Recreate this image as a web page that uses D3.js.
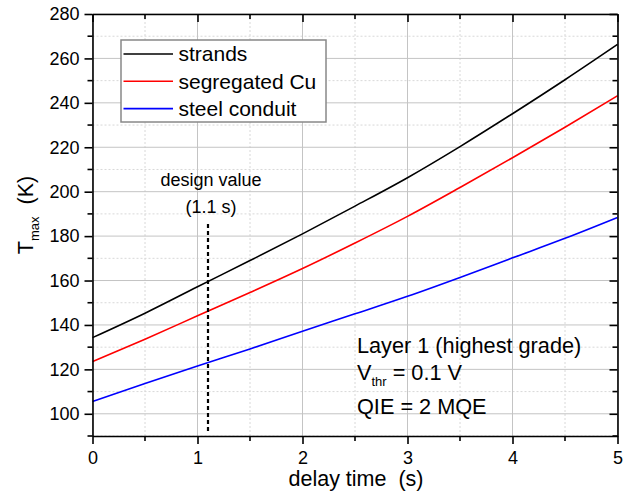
<!DOCTYPE html>
<html>
<head>
<meta charset="utf-8">
<script src="https://cdn.jsdelivr.net/npm/d3@7"></script>
<style>
  body { margin: 0; background: #fff; }
  svg { font-family: "Liberation Sans", Arial, sans-serif; }
</style>
</head>
<body>
<script>
/* Data */
var delayTimes = [0, 0.5, 1, 1.5, 2, 2.5, 3, 3.5, 4, 4.5, 5];
var strands    = [134.3, 145.3, 157.2, 169, 181, 193.5, 206.3, 220.3, 235.1, 250.4, 266.3];
var segCu      = [123.5, 133.6, 144.1, 154.6, 165.4, 176.9, 188.9, 201.9, 215.3, 229, 243.2];
var steel      = [105.5, 113.6, 121.5, 129.2, 137.2, 145, 152.9, 161.4, 170.2, 179, 188.4];
var seriesNames  = ["strands", "segregated Cu", "steel conduit"];
var seriesColors = ["#000000", "#ff0000", "#0000ff"];
var xTicks = [0, 1, 2, 3, 4, 5];
var yTicks = [100, 120, 140, 160, 180, 200, 220, 240, 260, 280];
var designValue = 1.1;

/* Display setup */
var W = 633, H = 498,
    margin = {top: 14, right: 15.5, bottom: 62, left: 92.5},
    width = W - margin.left - margin.right,
    height = H - margin.top - margin.bottom;

var svg = d3.select("body").append("svg")
    .attr("width", W)
    .attr("height", H);

var g = svg.append("g")
    .attr("transform", "translate(" + margin.left + "," + margin.top + ")");

var x = d3.scaleLinear().domain([0, 5]).range([0, width]),
    y = d3.scaleLinear().domain([90, 280]).range([height, 0]);

var xMinor = d3.range(0.5, 5, 1),
    yMinor = d3.range(90, 281, 10).filter(function(v) { return v % 20 != 0; });

/* Grid */
g.append("g").selectAll("line").data(xMinor).enter().append("line")
    .attr("x1", x).attr("x2", x).attr("y1", 0).attr("y2", height)
    .style("stroke", "#d8d8d8").style("stroke-dasharray", "2,2");
g.append("g").selectAll("line").data(yMinor).enter().append("line")
    .attr("y1", y).attr("y2", y).attr("x1", 0).attr("x2", width)
    .style("stroke", "#d8d8d8").style("stroke-dasharray", "2,2");
g.append("g").selectAll("line").data(xTicks).enter().append("line")
    .attr("x1", x).attr("x2", x).attr("y1", 0).attr("y2", height)
    .style("stroke", "#c4c4c4");
g.append("g").selectAll("line").data(yTicks).enter().append("line")
    .attr("y1", y).attr("y2", y).attr("x1", 0).attr("x2", width)
    .style("stroke", "#c4c4c4");

/* Curves */
var allSeries = [strands, segCu, steel];
var line = d3.line()
    .x(function(d, i) { return x(delayTimes[i]); })
    .y(function(d) { return y(d); })
    .curve(d3.curveMonotoneX);

g.selectAll(".curve").data(allSeries).enter().append("path")
    .attr("class", "curve")
    .attr("d", line)
    .style("fill", "none")
    .style("stroke", function(d, i) { return seriesColors[i]; })
    .style("stroke-width", 1.6);

/* Design value marker */
g.append("line")
    .attr("x1", x(designValue)).attr("x2", x(designValue))
    .attr("y1", y(185.5)).attr("y2", y(91.5))
    .style("stroke", "#000")
    .style("stroke-width", 2.2)
    .style("stroke-dasharray", "4,3");

g.append("text")
    .attr("x", x(designValue) + 3).attr("y", 172)
    .attr("text-anchor", "middle")
    .style("font-size", "18px")
    .text("design value");
g.append("text")
    .attr("x", x(designValue) + 3).attr("y", 199)
    .attr("text-anchor", "middle")
    .style("font-size", "18px")
    .text("(1.1 s)");

/* Axes */
function drawAxis(axis, transform, tickLen, showLabels) {
    var a = g.append("g").attr("transform", transform)
        .call(axis.tickSize(tickLen).tickSizeOuter(0).tickPadding(5));
    a.select(".domain").style("stroke", "#000").style("stroke-width", 1.6);
    a.selectAll(".tick line").style("stroke", "#000").style("stroke-width", 1.6);
    a.selectAll(".tick text").style("font-size", "18px").style("fill", "#000");
    if (!showLabels) a.selectAll(".tick text").remove();
    return a;
}

function minorX(a) {
    a.selectAll(".minor").data(xMinor).enter().append("line")
        .attr("x1", x).attr("x2", x).attr("y1", 0).attr("y2", 5)
        .style("stroke", "#000").style("stroke-width", 1.6);
}
function minorY(a) {
    a.selectAll(".minor").data(yMinor).enter().append("line")
        .attr("y1", y).attr("y2", y).attr("x1", 0).attr("x2", -5)
        .style("stroke", "#000").style("stroke-width", 1.6);
}

var axBottom = drawAxis(d3.axisBottom(x).tickValues(xTicks).tickFormat(d3.format("d")),
    "translate(0," + height + ")", 8, true);
axBottom.selectAll(".tick text").attr("dy", "0.85em");
minorX(axBottom);

var axLeft = drawAxis(d3.axisLeft(y).tickValues(yTicks).tickFormat(d3.format("d")),
    "translate(0,0)", 8, true);
minorY(axLeft);

var axTop = drawAxis(d3.axisBottom(x).tickValues(xTicks), "translate(0,0)", 8, false);
minorX(axTop);

var axRight = drawAxis(d3.axisLeft(y).tickValues(yTicks), "translate(" + width + ",0)", 8, false);
minorY(axRight);

/* Axis titles */
svg.append("text")
    .attr("x", margin.left + width / 2 + 1).attr("y", 486)
    .attr("text-anchor", "middle")
    .style("font-size", "21.5px")
    .text("delay time\u00a0\u00a0(s)");

var yTitle = svg.append("text")
    .attr("transform", "translate(33,215) rotate(-90)")
    .attr("text-anchor", "middle")
    .style("font-size", "21.5px");
yTitle.append("tspan").text("T");
yTitle.append("tspan").attr("dy", 6).style("font-size", "13px").text("max");
yTitle.append("tspan").attr("dy", -6).text("\u00a0\u00a0(K)");

/* Legend */
var legend = svg.append("g").attr("transform", "translate(121,40)");
legend.append("rect")
    .attr("width", 205).attr("height", 82)
    .style("fill", "#fff").style("stroke", "#888").style("stroke-width", 1.5);
var rows = legend.selectAll(".row").data(seriesNames).enter().append("g")
    .attr("transform", function(d, i) { return "translate(0," + (14 + i * 27.3) + ")"; });
rows.append("line")
    .attr("x1", 2.5).attr("x2", 52)
    .style("stroke", function(d, i) { return seriesColors[i]; })
    .style("stroke-width", 1.6);
rows.append("text")
    .attr("x", 57.5).attr("dy", "0.35em")
    .style("font-size", "21px")
    .text(function(d) { return d; });

/* Annotation */
var note = svg.append("g").attr("transform", "translate(357,0)").style("font-size", "21.7px");
note.append("text").attr("y", 353).text("Layer 1 (highest grade)");
var v = note.append("text").attr("y", 380);
v.append("tspan").text("V");
v.append("tspan").attr("dy", 6).style("font-size", "13px").text("thr");
v.append("tspan").attr("dy", -6).text(" = 0.1 V");
note.append("text").attr("y", 414).text("QIE = 2 MQE");
</script>
</body>
</html>
